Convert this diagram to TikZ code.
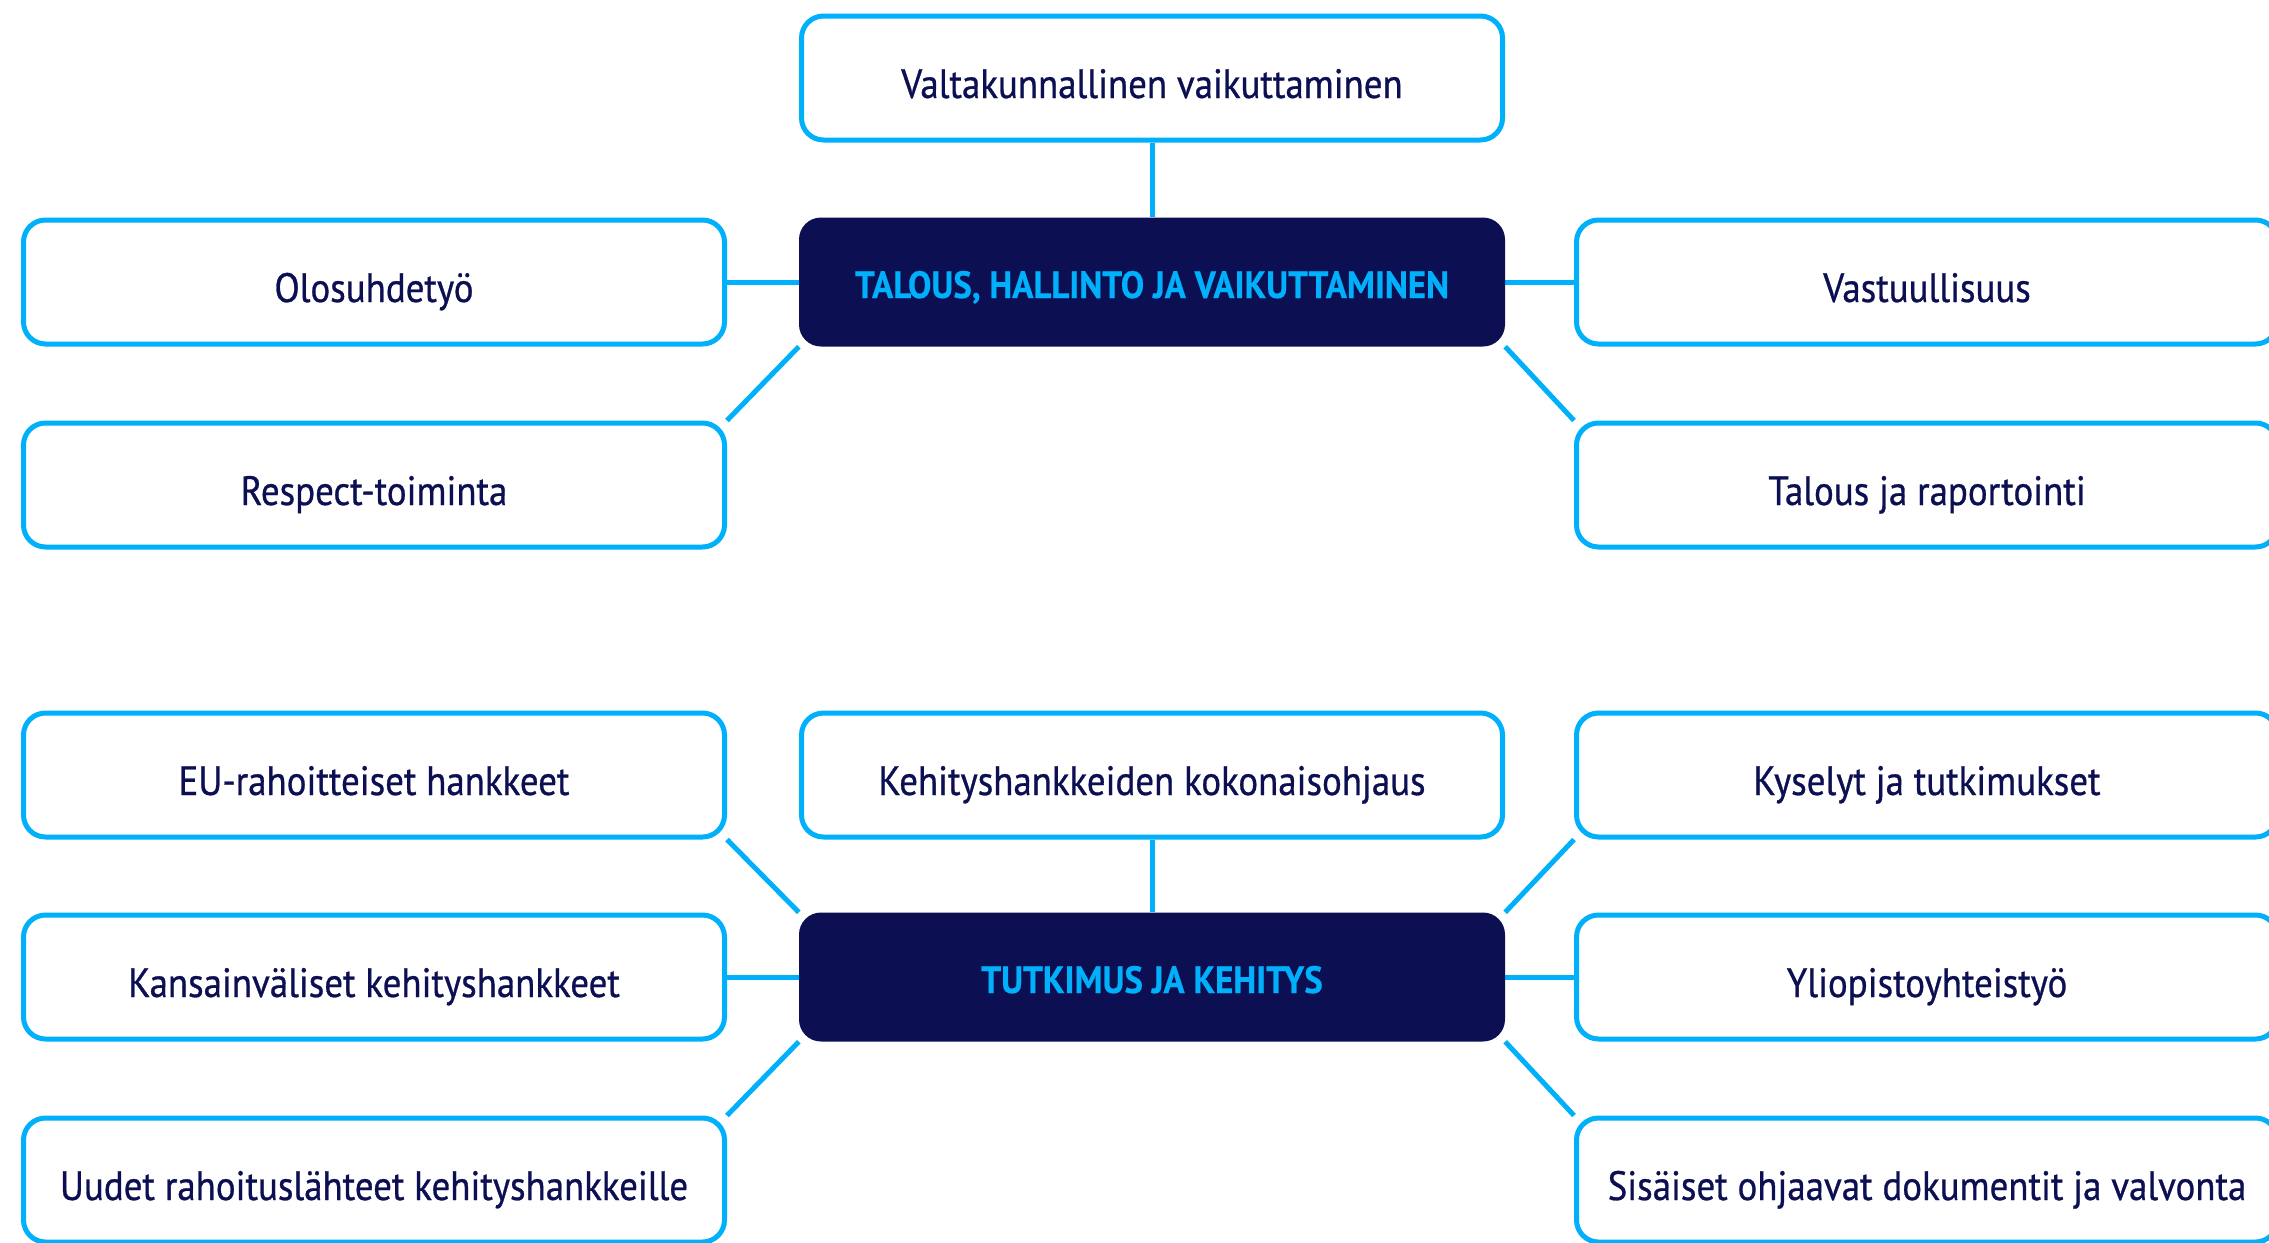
\documentclass[tikz,border=0pt]{standalone}
\usepackage{fontspec}
\setmainfont{PT Sans}[FakeStretch=0.9,FakeBold=0.7]
\newfontfamily\hubfont{PT Sans}[FakeStretch=0.92,BoldFont={* Bold},BoldFeatures={FakeBold=0.5}]
\usetikzlibrary{backgrounds}
\definecolor{cy}{RGB}{0,176,250}
\definecolor{nv}{RGB}{12,15,82}
\tikzset{
 leaf/.style={draw=cy, line width=5pt, rounded corners=22pt, fill=white,
   minimum width=701pt, minimum height=124pt, text=nv, inner sep=0pt,
   text height=46pt, text depth=6pt,
   font=\fontsize{41}{48}\selectfont},
 hub/.style={fill=nv, rounded corners=22pt, minimum width=706pt, minimum height=129pt,
   text=cy, inner sep=0pt, text height=40pt, text depth=8pt,
   font=\hubfont\bfseries\fontsize{38}{44}\selectfont},
 link/.style={draw=cy, line width=5pt}
}
\begin{document}
\begin{tikzpicture}[x=1pt,y=-1pt]
\useasboundingbox (0,0) rectangle (2269,1242);
% top group
\node[leaf] (valta) at (1152,78) {Valtakunnallinen vaikuttaminen};
\node[hub] (hub1) at (1152,282) {TALOUS, HALLINTO JA VAIKUTTAMINEN};
\node[leaf] (olo) at (374,282) {Olosuhdetyö};
\node[leaf] (resp) at (374,485) {Respect-toiminta};
\node[leaf] (vast) at (1927,282) {Vastuullisuus};
\node[leaf] (talous) at (1927,485) {Talous ja raportointi};
% bottom group
\node[leaf] (kehoh) at (1152,775) {Kehityshankkeiden kokonaisohjaus};
\node[hub] (hub2) at (1152,977) {TUTKIMUS JA KEHITYS};
\node[leaf] (eu) at (374,775) {EU-rahoitteiset hankkeet};
\node[leaf] (kv) at (374,977) {Kansainväliset kehityshankkeet};
\node[leaf] (uudet) at (374,1180) {Uudet rahoituslähteet kehityshankkeille};
\node[leaf] (kysely) at (1927,775) {Kyselyt ja tutkimukset};
\node[leaf] (yo) at (1927,977) {Yliopistoyhteistyö};
\node[leaf] (sis) at (1927,1180) {Sisäiset ohjaavat dokumentit ja valvonta};
\begin{pgfonlayer}{background}
\draw[link] (valta.south) -- (hub1.north);
\draw[link] (olo.east) -- (hub1.west);
\draw[link] (resp.north east) -- (hub1.south west);
\draw[link] (vast.west) -- (hub1.east);
\draw[link] (talous.north west) -- (hub1.south east);
\draw[link] (kehoh.south) -- (hub2.north);
\draw[link] (eu.south east) -- (hub2.north west);
\draw[link] (kv.east) -- (hub2.west);
\draw[link] (uudet.north east) -- (hub2.south west);
\draw[link] (kysely.south west) -- (hub2.north east);
\draw[link] (yo.west) -- (hub2.east);
\draw[link] (sis.north west) -- (hub2.south east);
\end{pgfonlayer}
\end{tikzpicture}
\end{document}
